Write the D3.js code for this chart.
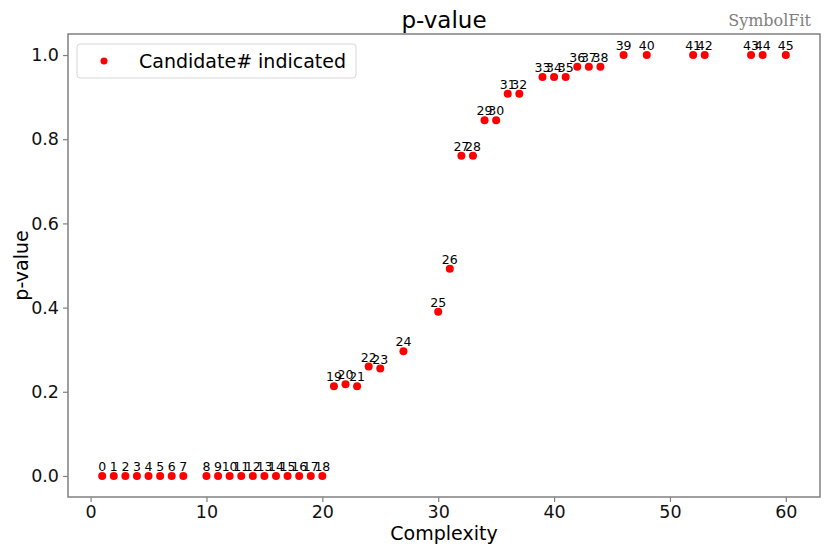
<!DOCTYPE html>
<html lang="en">
<meta charset="utf-8">
<title>p-value</title>
<style>
    body { margin: 0; background: white; }
    text { font-family: "DejaVu Sans", sans-serif; }
</style>
<script src="https://cdn.jsdelivr.net/npm/d3@7"></script>
<body>
<svg id="canvas"></svg>
<script>

    ////////////////////// Data ///////////////////////
    var complexity = [1, 2, 3, 4, 5, 6, 7, 8, 10, 11, 12, 13, 14, 15, 16, 17, 18, 19, 20,
                      21, 22, 23, 24, 25, 27, 30, 31, 32, 33, 34, 35, 36, 37, 39, 40, 41,
                      42, 43, 44, 46, 48, 52, 53, 57, 58, 60];
    var pvalue     = [0, 0, 0, 0, 0, 0, 0, 0, 0, 0, 0, 0, 0, 0, 0, 0, 0, 0, 0,
                      0.213, 0.218, 0.213, 0.260, 0.255, 0.296, 0.390, 0.492,
                      0.761, 0.761, 0.845, 0.845, 0.908, 0.908, 0.948, 0.948, 0.948,
                      0.972, 0.972, 0.972, 1.0, 1.0, 1.0, 1.0, 1.0, 1.0, 1.0];
    var x_ticks    = [0, 10, 20, 30, 40, 50, 60];
    var y_ticks    = [0.0, 0.2, 0.4, 0.6, 0.8, 1.0];
    ///////////////////////////////////////////////////

    ///////// Position and Dimension Variables ////////
    var dimensions = [830, 554];
    var plot_left  = 68;
    var plot_right = 820;
    var plot_top   = 34;
    var plot_bot   = 497;
    ///////////////////////////////////////////////////

    ///////////////// Style Variables /////////////////
    var dot_color    = 'red';
    var frame_color  = '#808080';
    var tick_size    = 17.5;
    var label_size   = 19;
    var title_size   = 23;
    var point_size   = 12.5;
    ///////////////////////////////////////////////////

    var canvas = d3.select("#canvas")
        .attr('width',  dimensions[0])
        .attr('height', dimensions[1]);

    // matplotlib style 5% margins
    var x_pad = (d3.max(complexity) - d3.min(complexity)) * 0.05;
    var x = d3.scaleLinear()
        .domain([d3.min(complexity) - x_pad, d3.max(complexity) + x_pad])
        .range([plot_left, plot_right]);
    var y = d3.scaleLinear()
        .domain([-0.05, 1.05])
        .range([plot_bot, plot_top]);

    //////////////////////// axes /////////////////////
    var x_axis = canvas.append("g")
        .attr('transform', 'translate(0,' + plot_bot + ')')
        .call(d3.axisBottom(x).tickValues(x_ticks).tickFormat(d3.format('d'))
              .tickSizeOuter(0).tickSize(5).tickPadding(4));
    var y_axis = canvas.append("g")
        .attr('transform', 'translate(' + plot_left + ',0)')
        .call(d3.axisLeft(y).tickValues(y_ticks).tickFormat(d3.format('.1f'))
              .tickSizeOuter(0).tickSize(5).tickPadding(4));
    [x_axis, y_axis].forEach(function (a) {
        a.select('.domain').remove();
        a.selectAll('line').attr('stroke', frame_color).attr('stroke-width', 1.2);
        a.selectAll('text')
         .attr('font-size', tick_size)
         .attr('fill', '#111')
         .style('font-family', '"DejaVu Sans", sans-serif');
    });

    // frame
    canvas.append("rect")
        .attr('x', plot_left)
        .attr('y', plot_top)
        .attr('width',  plot_right - plot_left)
        .attr('height', plot_bot - plot_top)
        .attr('fill', 'none')
        .attr('stroke', frame_color)
        .attr('stroke-width', 1.5);
    ///////////////////////////////////////////////////

    ////////////////////// labels /////////////////////
    canvas.append("text")
        .attr('x', (plot_left + plot_right) / 2)
        .attr('y', 540)
        .attr('text-anchor', 'middle')
        .attr('font-size', label_size)
        .text("Complexity");
    canvas.append("text")
        .attr('transform', 'translate(28,' + (plot_top + plot_bot) / 2 + ') rotate(-90)')
        .attr('text-anchor', 'middle')
        .attr('font-size', label_size)
        .text("p-value");
    canvas.append("text")
        .attr('x', (plot_left + plot_right) / 2)
        .attr('y', 28)
        .attr('text-anchor', 'middle')
        .attr('font-size', title_size)
        .text("p-value");
    canvas.append("text")
        .attr('x', 811)
        .attr('y', 26)
        .attr('text-anchor', 'end')
        .attr('font-size', 16)
        .attr('fill', '#808080')
        .style('font-family', '"DejaVu Serif", serif')
        .text("SymbolFit");
    ///////////////////////////////////////////////////

    ////////////////////// points /////////////////////
    var pts = complexity.map(function (c, i) { return {i: i, c: c, p: pvalue[i]}; });

    canvas.append("g").selectAll("circle")
        .data(pts).enter().append("circle")
        .attr('cx', function (d) { return x(d.c); })
        .attr('cy', function (d) { return y(d.p); })
        .attr('r', 4)
        .attr('fill', dot_color);

    canvas.append("g").selectAll("text")
        .data(pts).enter().append("text")
        .attr('x', function (d) { return x(d.c); })
        .attr('y', function (d) { return y(d.p) - 5; })
        .attr('text-anchor', 'middle')
        .attr('font-size', point_size)
        .attr('fill', 'black')
        .text(function (d) { return d.i; });
    ///////////////////////////////////////////////////

    ////////////////////// legend /////////////////////
    var legend = canvas.append("g");
    legend.append("rect")
        .attr('x', 77)
        .attr('y', 44)
        .attr('width', 279)
        .attr('height', 34)
        .attr('rx', 3)
        .attr('fill', 'white')
        .attr('fill-opacity', 0.8)
        .attr('stroke', '#d6d6d6');
    legend.append("circle")
        .attr('cx', 104)
        .attr('cy', 61)
        .attr('r', 3.5)
        .attr('fill', dot_color);
    legend.append("text")
        .attr('x', 139)
        .attr('y', 67.5)
        .attr('font-size', label_size)
        .text("Candidate# indicated");
    ///////////////////////////////////////////////////

</script>
</body>
</html>
